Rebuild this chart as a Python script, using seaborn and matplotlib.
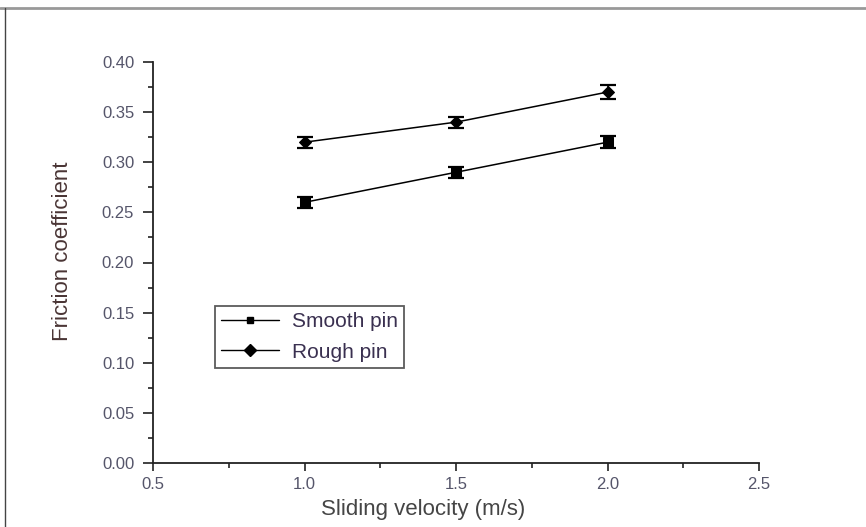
import numpy as np
import pandas as pd
import matplotlib
matplotlib.use("Agg")
import matplotlib.pyplot as plt
from matplotlib.ticker import MultipleLocator, FormatStrFormatter
from matplotlib.lines import Line2D
import seaborn as sns

# data
velocity = [1.0, 1.5, 2.0]
smooth_cof = [0.26, 0.29, 0.32]
smooth_err = [0.0055, 0.0055, 0.006]
rough_cof = [0.32, 0.34, 0.37]
rough_err = [0.0055, 0.0055, 0.007]
series_names = ["Smooth pin", "Rough pin"]

df = pd.DataFrame({
    "velocity": velocity * 2,
    "cof": smooth_cof + rough_cof,
    "err": smooth_err + rough_err,
    "pin": [series_names[0]] * 3 + [series_names[1]] * 3,
})

sns.set_style("ticks")
plt.rcParams["font.family"] = ["Liberation Sans", "DejaVu Sans"]

fig = plt.figure(figsize=(8.66, 5.27), dpi=100)
ax = fig.add_axes([153 / 866, 1 - 463 / 527, 606 / 866, 401 / 527])

sns.lineplot(data=df, x="velocity", y="cof", hue="pin", style="pin",
             palette={"Smooth pin": "black", "Rough pin": "black"},
             markers={"Smooth pin": "s", "Rough pin": "D"}, dashes=False,
             markersize=6.5, linewidth=1.1, markeredgecolor="black",
             legend=False, ax=ax)

for name in series_names:
    sub = df[df["pin"] == name]
    ax.errorbar(sub["velocity"], sub["cof"], yerr=sub["err"], fmt="none",
                ecolor="black", elinewidth=1.2, capsize=5.5, capthick=1.6)

ax.set_xlim(0.5, 2.5)
ax.set_ylim(0.0, 0.40)
ax.xaxis.set_major_locator(MultipleLocator(0.5))
ax.xaxis.set_minor_locator(MultipleLocator(0.25))
ax.yaxis.set_major_locator(MultipleLocator(0.05))
ax.yaxis.set_minor_locator(MultipleLocator(0.025))
ax.xaxis.set_major_formatter(FormatStrFormatter("%.1f"))
ax.yaxis.set_major_formatter(FormatStrFormatter("%.2f"))
ax.tick_params(which="major", direction="out", length=6, width=1.2,
               labelsize=12, labelcolor="#55556a", color="#222222")
ax.tick_params(axis="y", which="major", length=7.5, pad=6)
ax.tick_params(axis="x", which="major", pad=4)
ax.tick_params(which="minor", direction="out", length=3.5, width=1.2,
               color="#222222")

for side in ["top", "right"]:
    ax.spines[side].set_visible(False)
for side in ["left", "bottom"]:
    ax.spines[side].set_linewidth(1.3)
    ax.spines[side].set_color("#222222")

ax.set_xlabel("Sliding velocity (m/s)", fontsize=16, color="#454545")
ax.xaxis.set_label_coords((423 - 153) / 606, -(499 - 463) / 401)
ax.set_ylabel("Friction coefficient", fontsize=16, color="#4a3535")
ax.yaxis.set_label_coords(-(153 - 73) / 606, (463 - 251) / 401)

handles = [Line2D([], [], color="black", marker="s", markersize=5, linewidth=1),
           Line2D([], [], color="black", marker="D", markersize=6, linewidth=1)]
leg = ax.legend(handles, series_names, loc="lower left",
                bbox_to_anchor=(0.102, 0.237), frameon=True, fancybox=False,
                edgecolor="#333333", fontsize=15, handlelength=2.8,
                handletextpad=0.6, borderpad=0.3, labelspacing=0.55,
                borderaxespad=0)
leg.get_frame().set_linewidth(1.3)
for t in leg.get_texts():
    t.set_color("#3a3050")

# outer border of the original screenshot (top and left edges)
fig.add_artist(Line2D([0, 1], [1 - 8 / 527, 1 - 8 / 527], color="#999999",
                      linewidth=2, transform=fig.transFigure))
fig.add_artist(Line2D([5 / 866, 5 / 866], [0, 1 - 8 / 527], color="#444444",
                      linewidth=1, transform=fig.transFigure))

fig.savefig("out.png", dpi=100)
